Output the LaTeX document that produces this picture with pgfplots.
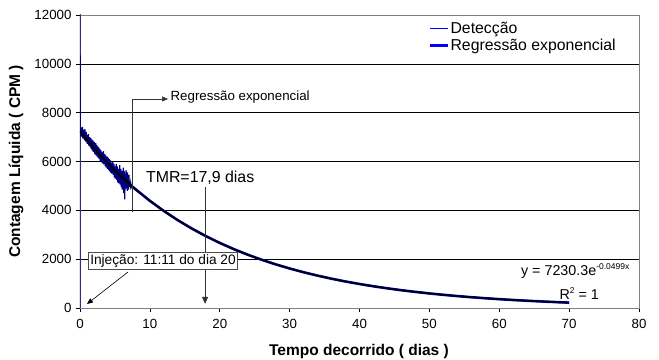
\documentclass[border=0pt]{standalone}
\usepackage{fontspec}
\setmainfont{Liberation Sans}
\usepackage{pgfplots}
\pgfplotsset{compat=1.18}
\usetikzlibrary{arrows.meta}
\definecolor{navy}{RGB}{0,0,128}
\definecolor{lblue}{RGB}{0,0,255}
\begin{document}
\begin{tikzpicture}
\begin{axis}[
  scale only axis, width=559pt, height=293pt,
  xmin=0, xmax=80, ymin=0, ymax=12000,
  xtick={0,10,...,80}, ytick={0,2000,...,12000},
  scaled y ticks=false, scaled x ticks=false,
  ymajorgrids, grid style={black, line width=0.6pt},
  axis line style={gray, line width=0.6pt},
  tick align=outside, major tick length=4pt,
  tick style={black, line width=0.6pt},
  xtick pos=bottom, ytick pos=left,
  /pgf/number format/assume math mode=true,
  /pgf/number format/1000 sep={},
  yticklabel={\pgfmathprintnumber[fixed,precision=0,1000 sep={}]{\tick}},
  ticklabel style={font=\fontsize{13.3}{16}\selectfont},
  xticklabel style={yshift=-4pt},
  yticklabel style={xshift=-1pt},
  xlabel={\bfseries Tempo decorrido ( dias )},
  ylabel={\bfseries Contagem Líquida ( CPM )},
  label style={font=\fontsize{15.5}{18}\selectfont},
  xlabel style={at={(axis description cs:0.499,-0.150)}, anchor=center},
  ylabel style={at={(axis description cs:-0.1145,0.5)}, anchor=center},
  legend style={at={(rel axis cs:0.6225,0.983)}, anchor=north west, draw=none, fill=white,
     font=\fontsize{15.8}{18}\selectfont, inner sep=1pt, row sep=2pt,
     nodes={inner sep=1pt}},
  legend cell align=left,
  legend image code/.code={\draw[#1] (0pt,0pt) -- (18pt,0pt);},
  clip=true,
]
\addlegendimage{lblue, line width=0.8pt}
\addlegendentry{Detecção}
\addlegendimage{lblue, line width=2.4pt}
\addlegendentry{Regressão exponencial}

% Detection (noisy part)
\addplot[navy, line width=1.2pt, forget plot] coordinates {
(0,0) (0,12500) (0.05,7480) (0.10,7150) (0.15,7390) (0.20,7020) (0.25,7310) (0.30,7180) (0.35,7420) (0.40,6950) (0.45,7260) (0.50,7050)
(0.55,7300) (0.60,6880) (0.65,7150) (0.70,7320) (0.75,6860) (0.80,7100) (0.85,6790) (0.90,7210) (0.95,6950) (1.00,7080)
(1.05,6720) (1.10,7050) (1.15,6800) (1.20,7120) (1.25,6650) (1.30,6940) (1.35,6700) (1.40,7000) (1.45,6580) (1.50,6820)
(1.55,6960) (1.60,6520) (1.65,6780) (1.70,6900) (1.75,6450) (1.80,6700) (1.85,6850) (1.90,6380) (1.95,6650) (2.00,6560)
(2.05,6800) (2.10,6300) (2.15,6620) (2.20,6480) (2.25,6750) (2.30,6250) (2.35,6550) (2.40,6680) (2.45,6200) (2.50,6450)
(2.55,6620) (2.60,6150) (2.65,6400) (2.70,6580) (2.75,6100) (2.80,6350) (2.85,6500) (2.90,6030) (2.95,6300) (3.00,6450)
(3.05,6000) (3.10,6380) (3.15,6100) (3.20,5920) (3.25,6300) (3.30,6050) (3.35,6420) (3.40,5880) (3.45,6150) (3.50,6000)
(3.55,6300) (3.60,5800) (3.65,6100) (3.70,6250) (3.75,5750) (3.80,6050) (3.85,5900) (3.90,6200) (3.95,5700) (4.00,5950)
(4.05,6150) (4.10,5650) (4.15,5900) (4.20,6100) (4.25,5600) (4.30,5850) (4.35,6050) (4.40,5550) (4.45,5800) (4.50,5950)
(4.55,5500) (4.60,5900) (4.65,5650) (4.70,6000) (4.75,5450) (4.80,5750) (4.85,5900) (4.90,5350) (4.95,5650) (5.00,5800)
(5.05,5300) (5.10,5750) (5.15,5500) (5.20,5900) (5.25,5250) (5.30,5600) (5.35,5800) (5.40,5150) (5.45,5500) (5.50,5700)
(5.55,5100) (5.60,5650) (5.65,5350) (5.70,5850) (5.75,5050) (5.80,5450) (5.85,5700) (5.90,4950) (5.95,5400) (6.00,5600)
(6.05,4850) (6.10,5500) (6.15,5150) (6.20,5750) (6.25,4700) (6.30,5350) (6.35,5600) (6.40,4450) (6.45,5200) (6.50,5500)
(6.55,4900) (6.60,5650) (6.65,4950) (6.70,5400) (6.75,4800) (6.80,5550) (6.85,5000) (6.90,5300) (6.95,4850) (7.00,5450)
(7.05,5000) (7.10,5200) (7.15,4950) (7.20,5100) (7.25,4980) (7.30,5050) (7.35,4960) (7.40,5000) (7.45,4970) (7.50,4972)
};
% Detection (smooth part)
\addplot[lblue, line width=2.6pt, forget plot] coordinates {
(7.5,4972) (8,4850.3) (10,4389.8) (12,3973.0) (14,3595.6) (16,3254.1) (18,2945.1) (20,2665.2)
(22,2412.1) (24,2183.0) (26,1975.6) (28,1788.0) (30,1618.2) (32,1464.5) (34,1325.4) (36,1199.5)
(38,1085.6) (40,982.5) (42,889.2) (44,804.7) (46,728.3) (48,659.1) (50,596.5) (52,539.9)
(54,488.6) (56,442.1) (58,400.2) (60,362.2) (62,327.8) (64,296.7) (66,268.5) (68,243.0) (70,219.9)
};
% Exponential regression
\addplot[black, line width=1.8pt, forget plot] coordinates {
(0,7230.3) (2,6543.6) (4,5922.1) (6,5359.5) (8,4850.3) (10,4389.8) (12,3973.0) (14,3595.6) (16,3254.1) (18,2945.1) (20,2665.2)
(22,2412.1) (24,2183.0) (26,1975.6) (28,1788.0) (30,1618.2) (32,1464.5) (34,1325.4) (36,1199.5)
(38,1085.6) (40,982.5) (42,889.2) (44,804.7) (46,728.3) (48,659.1) (50,596.5) (52,539.9)
(54,488.6) (56,442.1) (58,400.2) (60,362.2) (62,327.8) (64,296.7) (66,268.5) (68,243.0) (70,219.9)
};

% right border
\draw[gray, line width=0.6pt] (rel axis cs:1,0) -- (rel axis cs:1,1);

% Annotations
\draw[black!80, line width=0.6pt, -{Triangle[length=6pt,width=5pt]}] (axis cs:7.44,3930) |- (axis cs:12.6,8560);
\node[anchor=west, font=\fontsize{13.3}{16}\selectfont, inner sep=1pt] at (axis cs:12.8,8620) {Regressão exponencial};

\node[anchor=center, font=\fontsize{15.9}{18}\selectfont] at (axis cs:17.2,5340) {TMR=17,9 dias};
\draw[black!80, line width=0.6pt, -{Triangle[length=7pt,width=6pt]}] (axis cs:17.9,4956) -- (axis cs:17.9,170);

\draw[black, line width=0.6pt, -{Triangle[length=6pt,width=5pt]}] (axis cs:6.87,1474) -- (axis cs:1.0,164);
\node[draw=black!70, fill=white, line width=0.6pt, inner sep=2pt, font=\fontsize{13.7}{16}\selectfont] at (axis cs:11.88,1925) {Injeção: 11:11 do dia 20};

\node[anchor=west, font=\fontsize{14.3}{16}\selectfont, inner sep=0pt] at (axis cs:63.1,1500) {y = 7230.3e\raisebox{6pt}{\fontsize{8.5}{9}\selectfont -0.0499x}};
\node[anchor=west, font=\fontsize{14.3}{16}\selectfont, inner sep=0pt] at (axis cs:68.6,580) {R\raisebox{6pt}{\fontsize{8.5}{9}\selectfont 2} = 1};

\coordinate (sw) at (rel axis cs:0,0);
\coordinate (ne) at (rel axis cs:1,1);
\end{axis}
\pgfresetboundingbox
\path[use as bounding box] ([xshift=-80pt,yshift=-52pt]sw) rectangle ([xshift=20pt,yshift=15pt]ne);
\end{tikzpicture}
\end{document}
